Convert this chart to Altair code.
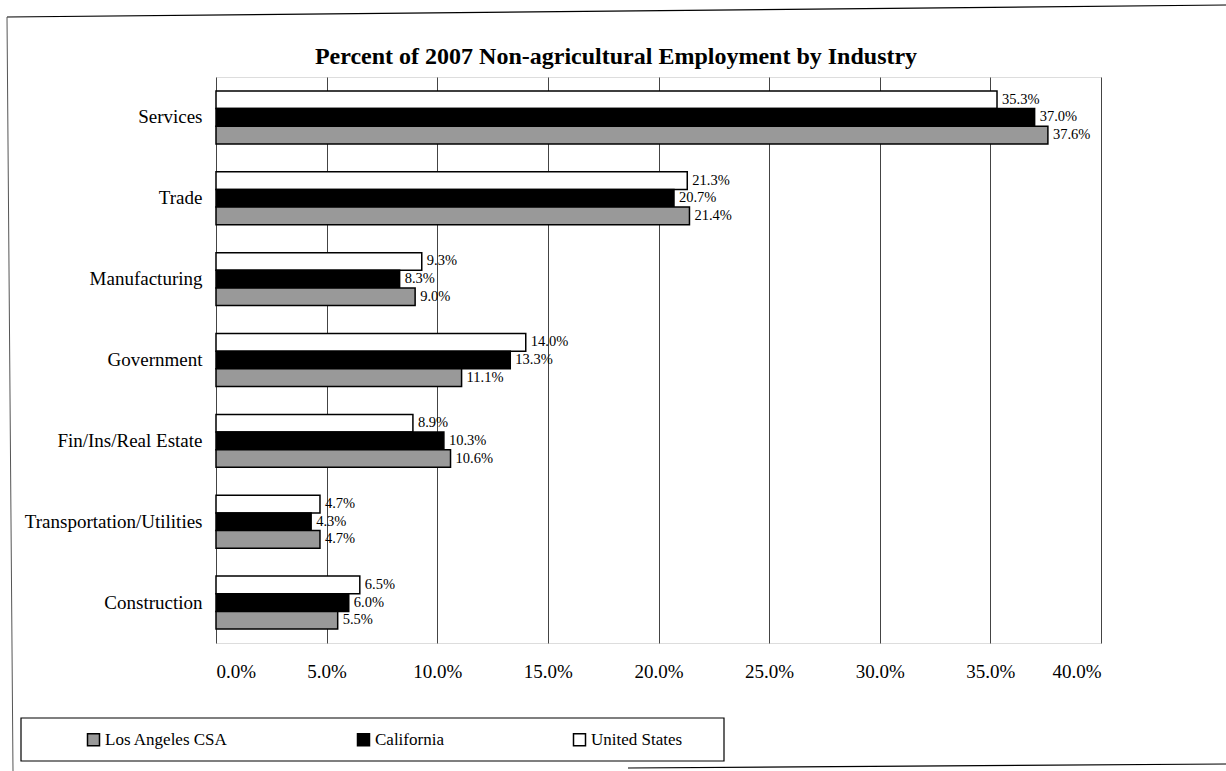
import altair as alt
import pandas as pd

industries = ["Services", "Trade", "Manufacturing", "Government",
              "Fin/Ins/Real Estate", "Transportation/Utilities", "Construction"]
us_vals = [35.3, 21.3, 9.3, 14.0, 8.9, 4.7, 6.5]
ca_vals = [37.0, 20.7, 8.3, 13.3, 10.3, 4.3, 6.0]
la_vals = [37.6, 21.4, 9.0, 11.1, 10.6, 4.7, 5.5]
series = ["Los Angeles CSA", "California", "United States"]
bar_order = ["United States", "California", "Los Angeles CSA"]
x_ticks = [0, 0.05, 0.10, 0.15, 0.20, 0.25, 0.30, 0.35, 0.40]
title_text = "Percent of 2007 Non-agricultural Employment by Industry"

rows = []
for i, ind in enumerate(industries):
    rows.append({"Industry": ind, "Area": "United States", "Value": us_vals[i] / 100})
    rows.append({"Industry": ind, "Area": "California", "Value": ca_vals[i] / 100})
    rows.append({"Industry": ind, "Area": "Los Angeles CSA", "Value": la_vals[i] / 100})
df = pd.DataFrame(rows)

FONT = "Liberation Serif"
PL, PT = 216, 77      # plot origin in page pixels
W, H = 885, 566       # plot size

y_enc = alt.Y("Industry:N", sort=industries,
              scale=alt.Scale(paddingInner=0.345, paddingOuter=0.1725),
              axis=alt.Axis(title=None, ticks=False, domain=False, labelFont=FONT,
                            labelFontSize=19, labelColor="black", labelPadding=14,
                            labelLimit=400))
yoff = alt.YOffset("Area:N", sort=bar_order, scale=alt.Scale(paddingInner=0, paddingOuter=0))
x_enc = alt.X("Value:Q", scale=alt.Scale(domain=[0, 0.40], nice=False),
              axis=alt.Axis(title=None, format=".1%", values=x_ticks, ticks=False,
                            domain=False, grid=True, gridColor="#444444", gridWidth=1,
                            labelFont=FONT, labelFontSize=19, labelColor="black",
                            labelPadding=19))

bars = alt.Chart(df).mark_bar(stroke="black", strokeWidth=1.5).encode(
    x=x_enc,
    y=y_enc,
    yOffset=yoff,
    color=alt.Color("Area:N", sort=series,
                    scale=alt.Scale(domain=series, range=["#999999", "#000000", "#ffffff"]),
                    legend=alt.Legend(title=None, orient="none", direction="horizontal",
                                      legendX=85 - PL, legendY=731 - PT,
                                      symbolType="square", symbolSize=144,
                                      symbolStrokeColor="black", symbolStrokeWidth=1.5,
                                      symbolOpacity=1,
                                      labelFont=FONT, labelFontSize=17, labelColor="black",
                                      labelOffset=3, columnPadding=126, padding=0,
                                      labelLimit=300)),
)

labels = alt.Chart(df).mark_text(align="left", baseline="middle", dx=5,
                                 font=FONT, fontSize=14.5, color="black").encode(
    x="Value:Q",
    y=alt.Y("Industry:N", sort=industries),
    yOffset=alt.YOffset("Area:N", sort=bar_order),
    text=alt.Text("Value:Q", format=".1%"),
)

one = pd.DataFrame({"t": [title_text]})
title = alt.Chart(one).mark_text(font=FONT, fontSize=24, fontWeight="bold", color="black",
                                 align="center", baseline="middle").encode(
    x=alt.value(616 - PL), y=alt.value(57 - PT), text="t:N")
legend_box = alt.Chart(one).mark_rect(filled=False, stroke="black", strokeWidth=1.2).encode(
    x=alt.value(21 - PL), x2=alt.value(724 - PL), y=alt.value(718 - PT), y2=alt.value(761 - PT))
top_line = alt.Chart(one).mark_rule(color="black", strokeWidth=1.2).encode(
    x=alt.value(7 - PL), x2=alt.value(1226 - PL), y=alt.value(17 - PT), y2=alt.value(5 - PT))
left_line = alt.Chart(one).mark_rule(color="#555555", strokeWidth=1).encode(
    x=alt.value(7 - PL), x2=alt.value(13 - PL), y=alt.value(17 - PT), y2=alt.value(771 - PT))
bottom_line = alt.Chart(one).mark_rule(color="black", strokeWidth=1.2).encode(
    x=alt.value(628 - PL), x2=alt.value(1226 - PL), y=alt.value(768 - PT), y2=alt.value(764 - PT))

chart = alt.layer(bars, labels, title, legend_box, top_line, left_line, bottom_line).properties(
    width=W, height=H,
    autosize=alt.AutoSizeParams(type="none"),
    padding={"left": PL, "top": PT, "right": 1226 - PL - W, "bottom": 771 - PT - H},
).configure_view(stroke="black", strokeWidth=1.5).configure(background="white")

chart.save("out.html", embed_options={"renderer": "svg", "actions": False})
